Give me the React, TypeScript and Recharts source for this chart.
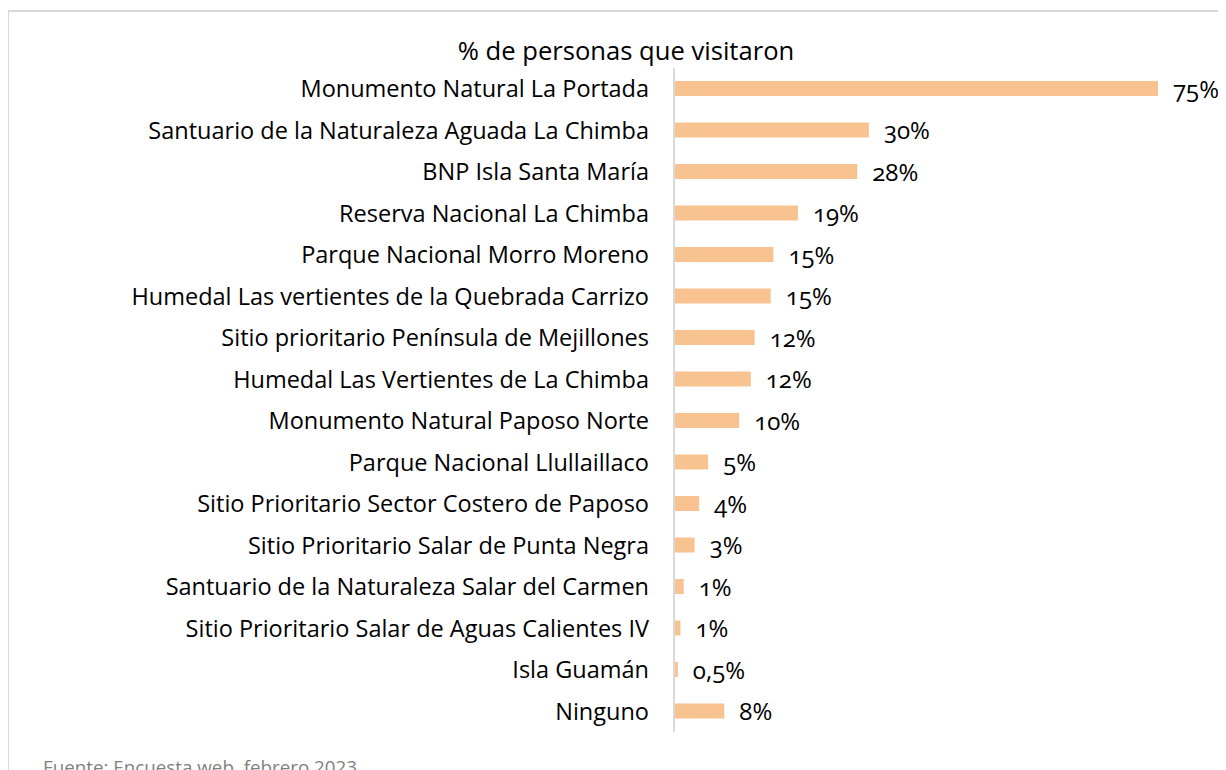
import React from 'react'
import { BarChart, Bar, XAxis, YAxis, LabelList } from 'recharts'

const categories = [
  'Monumento Natural La Portada',
  'Santuario de la Naturaleza Aguada La Chimba',
  'BNP Isla Santa María',
  'Reserva Nacional La Chimba',
  'Parque Nacional Morro Moreno',
  'Humedal Las vertientes de la Quebrada Carrizo',
  'Sitio prioritario Península de Mejillones',
  'Humedal Las Vertientes de La Chimba',
  'Monumento Natural Paposo Norte',
  'Parque Nacional Llullaillaco',
  'Sitio Prioritario Sector Costero de Paposo',
  'Sitio Prioritario Salar de Punta Negra',
  'Santuario de la Naturaleza Salar del Carmen',
  'Sitio Prioritario Salar de Aguas Calientes IV',
  'Isla Guamán',
  'Ninguno',
]

// bar lengths (% of people)
const values = [75, 30.2, 28.4, 19.2, 15.4, 15.0, 12.5, 11.9, 10.1, 5.3, 3.9, 3.2, 1.5, 1.0, 0.6, 7.8]

// printed labels
const valueLabels = ['75%', '30%', '28%', '19%', '15%', '15%', '12%', '12%', '10%', '5%', '4%', '3%', '1%', '1%', '0,5%', '8%']

const data = categories.map((name, i) => ({ name, value: values[i], label: valueLabels[i] }))

const font = '"Open Sans", "Noto Sans", sans-serif'

const renderValueLabel = (props: any) => {
  const { x, y, width, height, index } = props
  return (
    <text
      x={x + width + 15}
      y={y + height / 2 + 3}
      dominantBaseline="middle"
      fontSize={24}
      fontFamily={font}
      fill="#000"
      style={{ fontVariantNumeric: 'oldstyle-nums' }}
    >
      {valueLabels[index]}
    </text>
  )
}

export default function App() {
  return (
    <div
      style={{
        position: 'relative',
        marginLeft: -1,
        marginTop: 2,
        width: 1219,
        height: 760,
        borderTop: '2px solid #d9d9d9',
        borderLeft: '2px solid #d9d9d9',
        boxSizing: 'border-box',
        fontFamily: font,
        overflow: 'visible',
      }}
    >
      <div
        style={{
          position: 'absolute',
          left: 0,
          width: 1234,
          top: 21,
          textAlign: 'center',
          fontSize: 25.6,
          color: '#000',
        }}
      >
        % de personas que visitaron
      </div>
      <BarChart
        width={1217}
        height={758}
        data={data}
        layout="vertical"
        margin={{ top: 56, right: 68, bottom: 38, left: 0 }}
        barCategoryGap={13}
      >
        <XAxis type="number" domain={[0, 75]} hide />
        <YAxis
          type="category"
          dataKey="name"
          width={665}
          tickLine={false}
          tickSize={0}
          tickMargin={25}
          axisLine={{ stroke: '#d9d9d9', strokeWidth: 2 }}
          interval={0}
          tick={{ fontSize: 23.5, fill: '#000', fontFamily: font }}
        />
        <Bar dataKey="value" fill="#F9C291" barSize={15} isAnimationActive={false}>
          <LabelList dataKey="label" content={renderValueLabel} />
        </Bar>
      </BarChart>
      <div
        style={{
          position: 'absolute',
          left: 34,
          top: 742,
          fontSize: 18.8,
          color: '#7f7f7f',
          whiteSpace: 'nowrap',
        }}
      >
        Fuente: Encuesta web, febrero 2023
      </div>
    </div>
  )
}
